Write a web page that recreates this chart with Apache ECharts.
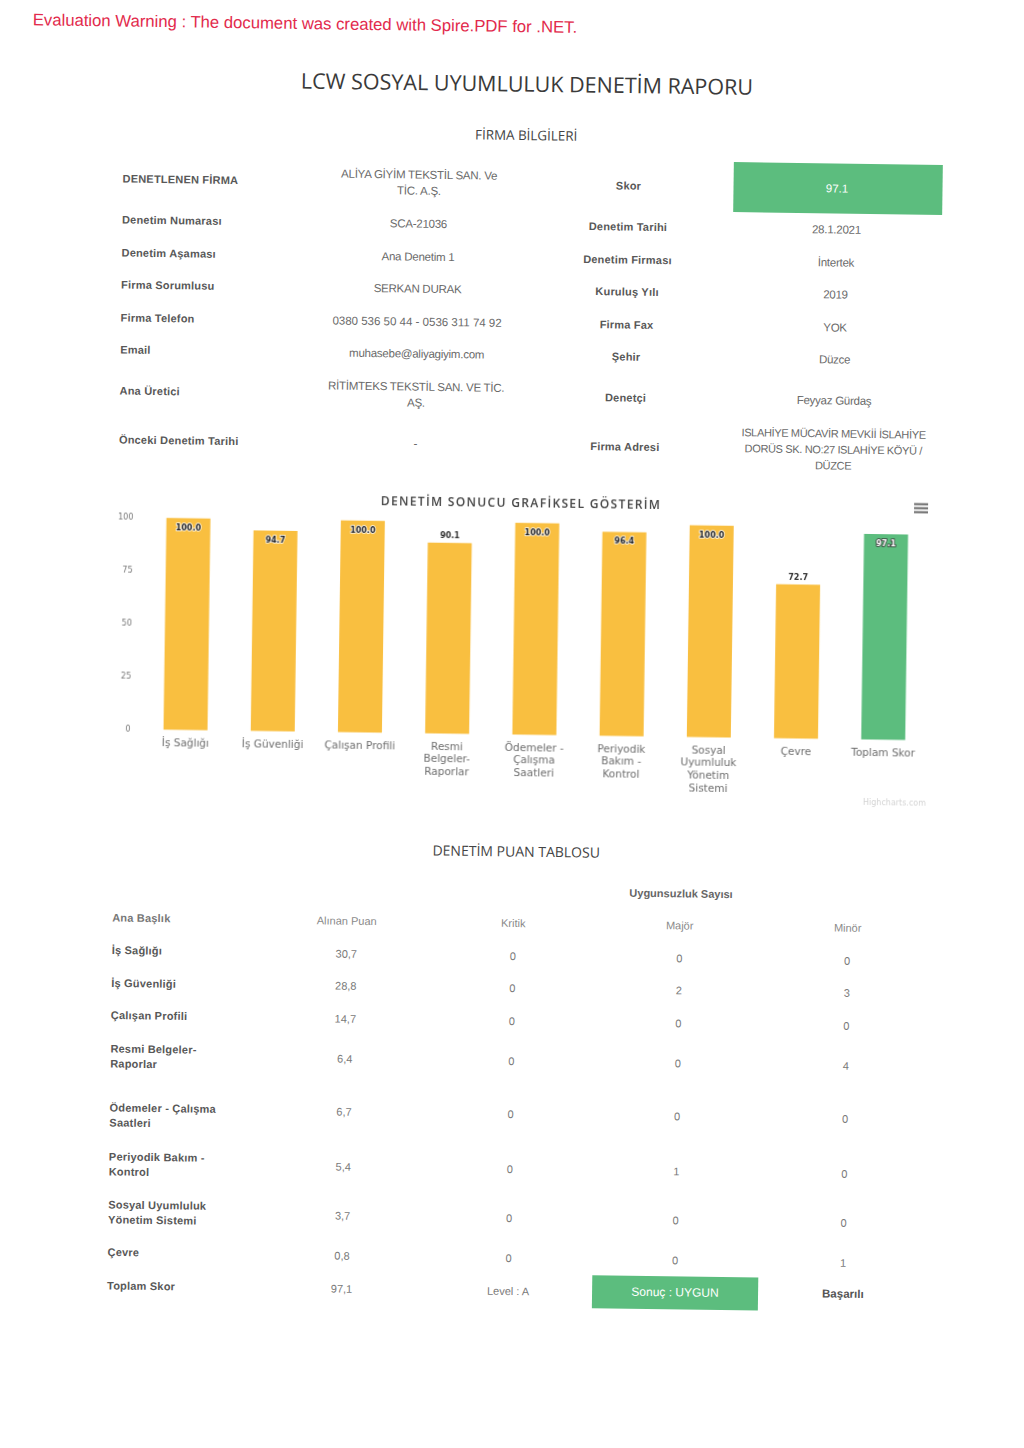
<!DOCTYPE html>
<html>
<head>
<meta charset="utf-8">
<script src="https://cdn.jsdelivr.net/npm/echarts@6/dist/echarts.min.js"></script>
<style>
html,body{margin:0;padding:0;background:#fff;width:1024px;height:1448px;overflow:hidden;}
#page{position:absolute;left:0;top:0;width:1024px;height:1448px;background:#fff;transform:rotate(0.8deg);transform-origin:512px 724px;}
.t{position:absolute;white-space:pre;font-family:"Liberation Sans",Arial,sans-serif;}
#chart{position:absolute;left:0;top:470px;width:1024px;height:350px;}
</style>
</head>
<body>
<div id="page"><div id="chart"></div></div>
<script>
// ---------- texts ----------
const warningText = 'Evaluation Warning : The document was created with Spire.PDF for .NET.';
const reportTitle = 'LCW SOSYAL UYUMLULUK DENETİM RAPORU';
const sectionFirma = 'FİRMA BİLGİLERİ';
const chartTitle = 'DENETİM SONUCU GRAFİKSEL GÖSTERİM';
const sectionPuan = 'DENETİM PUAN TABLOSU';

// ---------- firm info ----------
const leftLabels = ['DENETLENEN FİRMA','Denetim Numarası','Denetim Aşaması','Firma Sorumlusu','Firma Telefon','Email','Ana Üretici','Önceki Denetim Tarihi'];
const leftValues = [['ALİYA GİYİM TEKSTİL SAN. Ve','TİC. A.Ş.'],['SCA-21036'],['Ana Denetim 1'],['SERKAN DURAK'],['0380 536 50 44 - 0536 311 74 92'],['muhasebe@aliyagiyim.com'],['RİTİMTEKS TEKSTİL SAN. VE TİC.','AŞ.'],['-']];
const rightLabels = ['Skor','Denetim Tarihi','Denetim Firması','Kuruluş Yılı','Firma Fax','Şehir','Denetçi','Firma Adresi'];
const rightValues = [['97.1'],['28.1.2021'],['İntertek'],['2019'],['YOK'],['Düzce'],['Feyyaz Gürdaş'],['ISLAHİYE MÜCAVİR MEVKİİ İSLAHİYE','DORÜS SK. NO:27 ISLAHİYE KÖYÜ /','DÜZCE']];

// ---------- chart data ----------
const categories = ['İş Sağlığı','İş Güvenliği','Çalışan Profili','Resmi\nBelgeler-\nRaporlar','Ödemeler -\nÇalışma\nSaatleri','Periyodik\nBakım -\nKontrol','Sosyal\nUyumluluk\nYönetim\nSistemi','Çevre','Toplam Skor'];
const scores = [100.0, 94.7, 100.0, 90.1, 100.0, 96.4, 100.0, 72.7, 97.1];
const yTicks = [0, 25, 50, 75, 100];
const creditText = 'Highcharts.com';

// ---------- score table ----------
const nonconfHeader = 'Uygunsuzluk Sayısı';
const tableHeaders = ['Ana Başlık','Alınan Puan','Kritik','Majör','Minör'];
const rowTitles = [['İş Sağlığı'],['İş Güvenliği'],['Çalışan Profili'],['Resmi Belgeler-','Raporlar'],['Ödemeler - Çalışma','Saatleri'],['Periyodik Bakım -','Kontrol'],['Sosyal Uyumluluk','Yönetim Sistemi'],['Çevre']];
const pointsReceived = ['30,7','28,8','14,7','6,4','6,7','5,4','3,7','0,8'];
const criticalCounts = [0,0,0,0,0,0,0,0];
const majorCounts = [0,2,0,0,0,1,0,0];
const minorCounts = [0,3,0,4,0,0,0,1];
const totalRow = ['Toplam Skor','97,1','Level : A','Sonuç : UYGUN','Başarılı'];

// ---------- layout helpers ----------
const page = document.getElementById('page');
function T(x, y, lines, style, align){
  const d = document.createElement('div');
  d.className = 't';
  d.textContent = Array.isArray(lines) ? lines.join('\n') : String(lines);
  d.style.left = x + 'px';
  d.style.top = y + 'px';
  if (align === 'left') { d.style.transform = 'translate(0,-50%)'; d.style.textAlign = 'left'; }
  else { d.style.transform = 'translate(-50%,-50%)'; d.style.textAlign = 'center'; }
  Object.assign(d.style, style || {});
  page.appendChild(d);
  return d;
}
function box(cx, cy, w, h, color){
  const d = document.createElement('div');
  d.style.cssText = 'position:absolute;left:'+(cx-w/2)+'px;top:'+(cy-h/2)+'px;width:'+w+'px;height:'+h+'px;background:'+color+';';
  page.appendChild(d);
}
const GREEN = '#5cbd7e';
const ORANGE = '#f9bf40';
const labelStyle = {fontWeight:'bold', fontSize:'11px', color:'#585858', letterSpacing:'0.2px'};
const valueStyle = {fontSize:'11.5px', color:'#6a6a6a', lineHeight:'16px', letterSpacing:'-0.25px'};

// header
T(23, 26.5, warningText, {fontSize:'16.7px', color:'#e22a4c'}, 'left');
T(518, 83, reportTitle, {fontFamily:'"Open Sans",sans-serif', fontSize:'21.5px', color:'#3a3a3a'});
T(518, 135, sectionFirma, {fontFamily:'"Open Sans",sans-serif', fontSize:'13.4px', color:'#444'});

// firm info
const infoRows = [184, 224.5, 257.5, 290, 323, 355, 396, 444.5];
box(830, 183.5, 209, 50, GREEN);
infoRows.forEach((y, i) => {
  T(115, y, leftLabels[i], labelStyle, 'left');
  const lv = Object.assign({}, valueStyle);
  if (i === 4) lv.letterSpacing = '0px';
  T(411.5, y, leftValues[i], lv);
  T(621, y, rightLabels[i], labelStyle);
  const rv = Object.assign({}, valueStyle);
  if (i === 0) { rv.color = '#fff'; rv.letterSpacing = '0px'; }
  if (i === 7) { rv.fontSize = '11px'; rv.letterSpacing = '-0.35px'; }
  T(829.5, y, rightValues[i], rv);
});

// chart title
T(518, 502, chartTitle, {fontFamily:'"Open Sans",sans-serif', fontWeight:'600', fontSize:'12px', color:'#444', letterSpacing:'1.35px'});

// score table
T(518, 851, sectionPuan, {fontFamily:'"Open Sans",sans-serif', fontSize:'14px', color:'#444'});
T(683.4, 890.6, nonconfHeader, {fontWeight:'bold', fontSize:'11px', color:'#666'});
const colX = [349.5, 516, 682.5, 850.5];
const headStyle = {fontSize:'11px', color:'#8a8a8a'};
T(115, 923, tableHeaders[0], {fontWeight:'bold', fontSize:'11px', color:'#777', letterSpacing:'0.2px'}, 'left');
for (let c = 1; c < 5; c++) T(colX[c-1], 923, tableHeaders[c], headStyle);
const rowLabelY = [956, 989, 1021, 1061.5, 1120.5, 1169.5, 1217.5, 1258];
const rowValueY = [956, 988, 1020.5, 1061, 1114, 1169, 1218, 1258];
const cellStyle = {fontSize:'11px', color:'#7a7a7a'};
rowTitles.forEach((lines, i) => {
  T(115, rowLabelY[i], lines, Object.assign({lineHeight:'15px'}, labelStyle), 'left');
  T(colX[0], rowValueY[i], pointsReceived[i], cellStyle);
  T(colX[1], rowValueY[i], criticalCounts[i], cellStyle);
  T(colX[2], rowValueY[i], majorCounts[i], cellStyle);
  T(colX[3], rowValueY[i], minorCounts[i], cellStyle);
});
T(115, 1291, totalRow[0], labelStyle, 'left');
T(colX[0], 1291, totalRow[1], cellStyle);
T(colX[1], 1291, totalRow[2], cellStyle);
box(683, 1290.2, 166, 33, GREEN);
T(683, 1290.2, totalRow[3], {fontSize:'12px', color:'#fff'});
T(850.8, 1289.4, totalRow[4], {fontWeight:'bold', fontSize:'11.5px', color:'#555'});

// ---------- chart ----------
const chart = echarts.init(document.getElementById('chart'), null, {renderer:'canvas'});
const lastIdx = scores.length - 1;
const option = {
  animation: false,
  grid: {left: 142, top: 52.8, width: 785, height: 211.7, containLabel: false},
  xAxis: {
    type: 'category',
    data: categories,
    axisLine: {show: false},
    axisTick: {show: false},
    axisLabel: {interval: 0, color: '#6e6e6e', fontSize: 10.5, fontFamily: 'DejaVu Sans', lineHeight: 12.7, margin: 7}
  },
  yAxis: {
    type: 'value',
    min: yTicks[0],
    max: yTicks[yTicks.length-1],
    interval: yTicks[1] - yTicks[0],
    splitLine: {show: false},
    axisLine: {show: false},
    axisTick: {show: false},
    axisLabel: {color: '#777', fontSize: 8, fontFamily: 'DejaVu Sans', margin: 11.5}
  },
  series: [{
    type: 'bar',
    barWidth: 44,
    data: scores.map((v, i) => {
      const inside = v >= 94;
      const green = i === lastIdx;
      return {
        value: v,
        itemStyle: {color: green ? GREEN : ORANGE},
        label: inside ? {
          position: 'insideTop', distance: 6,
          color: green ? '#fff' : '#222',
          textBorderColor: green ? '#333' : '#fff', textBorderWidth: 1.5
        } : {position: 'top', distance: 3, color: '#333', textBorderWidth: 0}
      };
    }),
    label: {
      show: true,
      fontSize: 8, fontWeight: 'bold', fontFamily: 'DejaVu Sans',
      formatter: p => p.value.toFixed(1)
    }
  }],
  graphic: [
    {type: 'rect', left: 911, top: 27.5, shape: {width: 14, height: 2}, style: {fill: '#666'}},
    {type: 'rect', left: 911, top: 31.5, shape: {width: 14, height: 2}, style: {fill: '#666'}},
    {type: 'rect', left: 911, top: 35.5, shape: {width: 14, height: 2}, style: {fill: '#666'}},
    {type: 'text', right: 1024 - 927, top: 324, style: {text: creditText, fill: '#d4d4d4', fontSize: 8, fontFamily: 'DejaVu Sans'}}
  ]
};
chart.setOption(option);
</script>
</body>
</html>
